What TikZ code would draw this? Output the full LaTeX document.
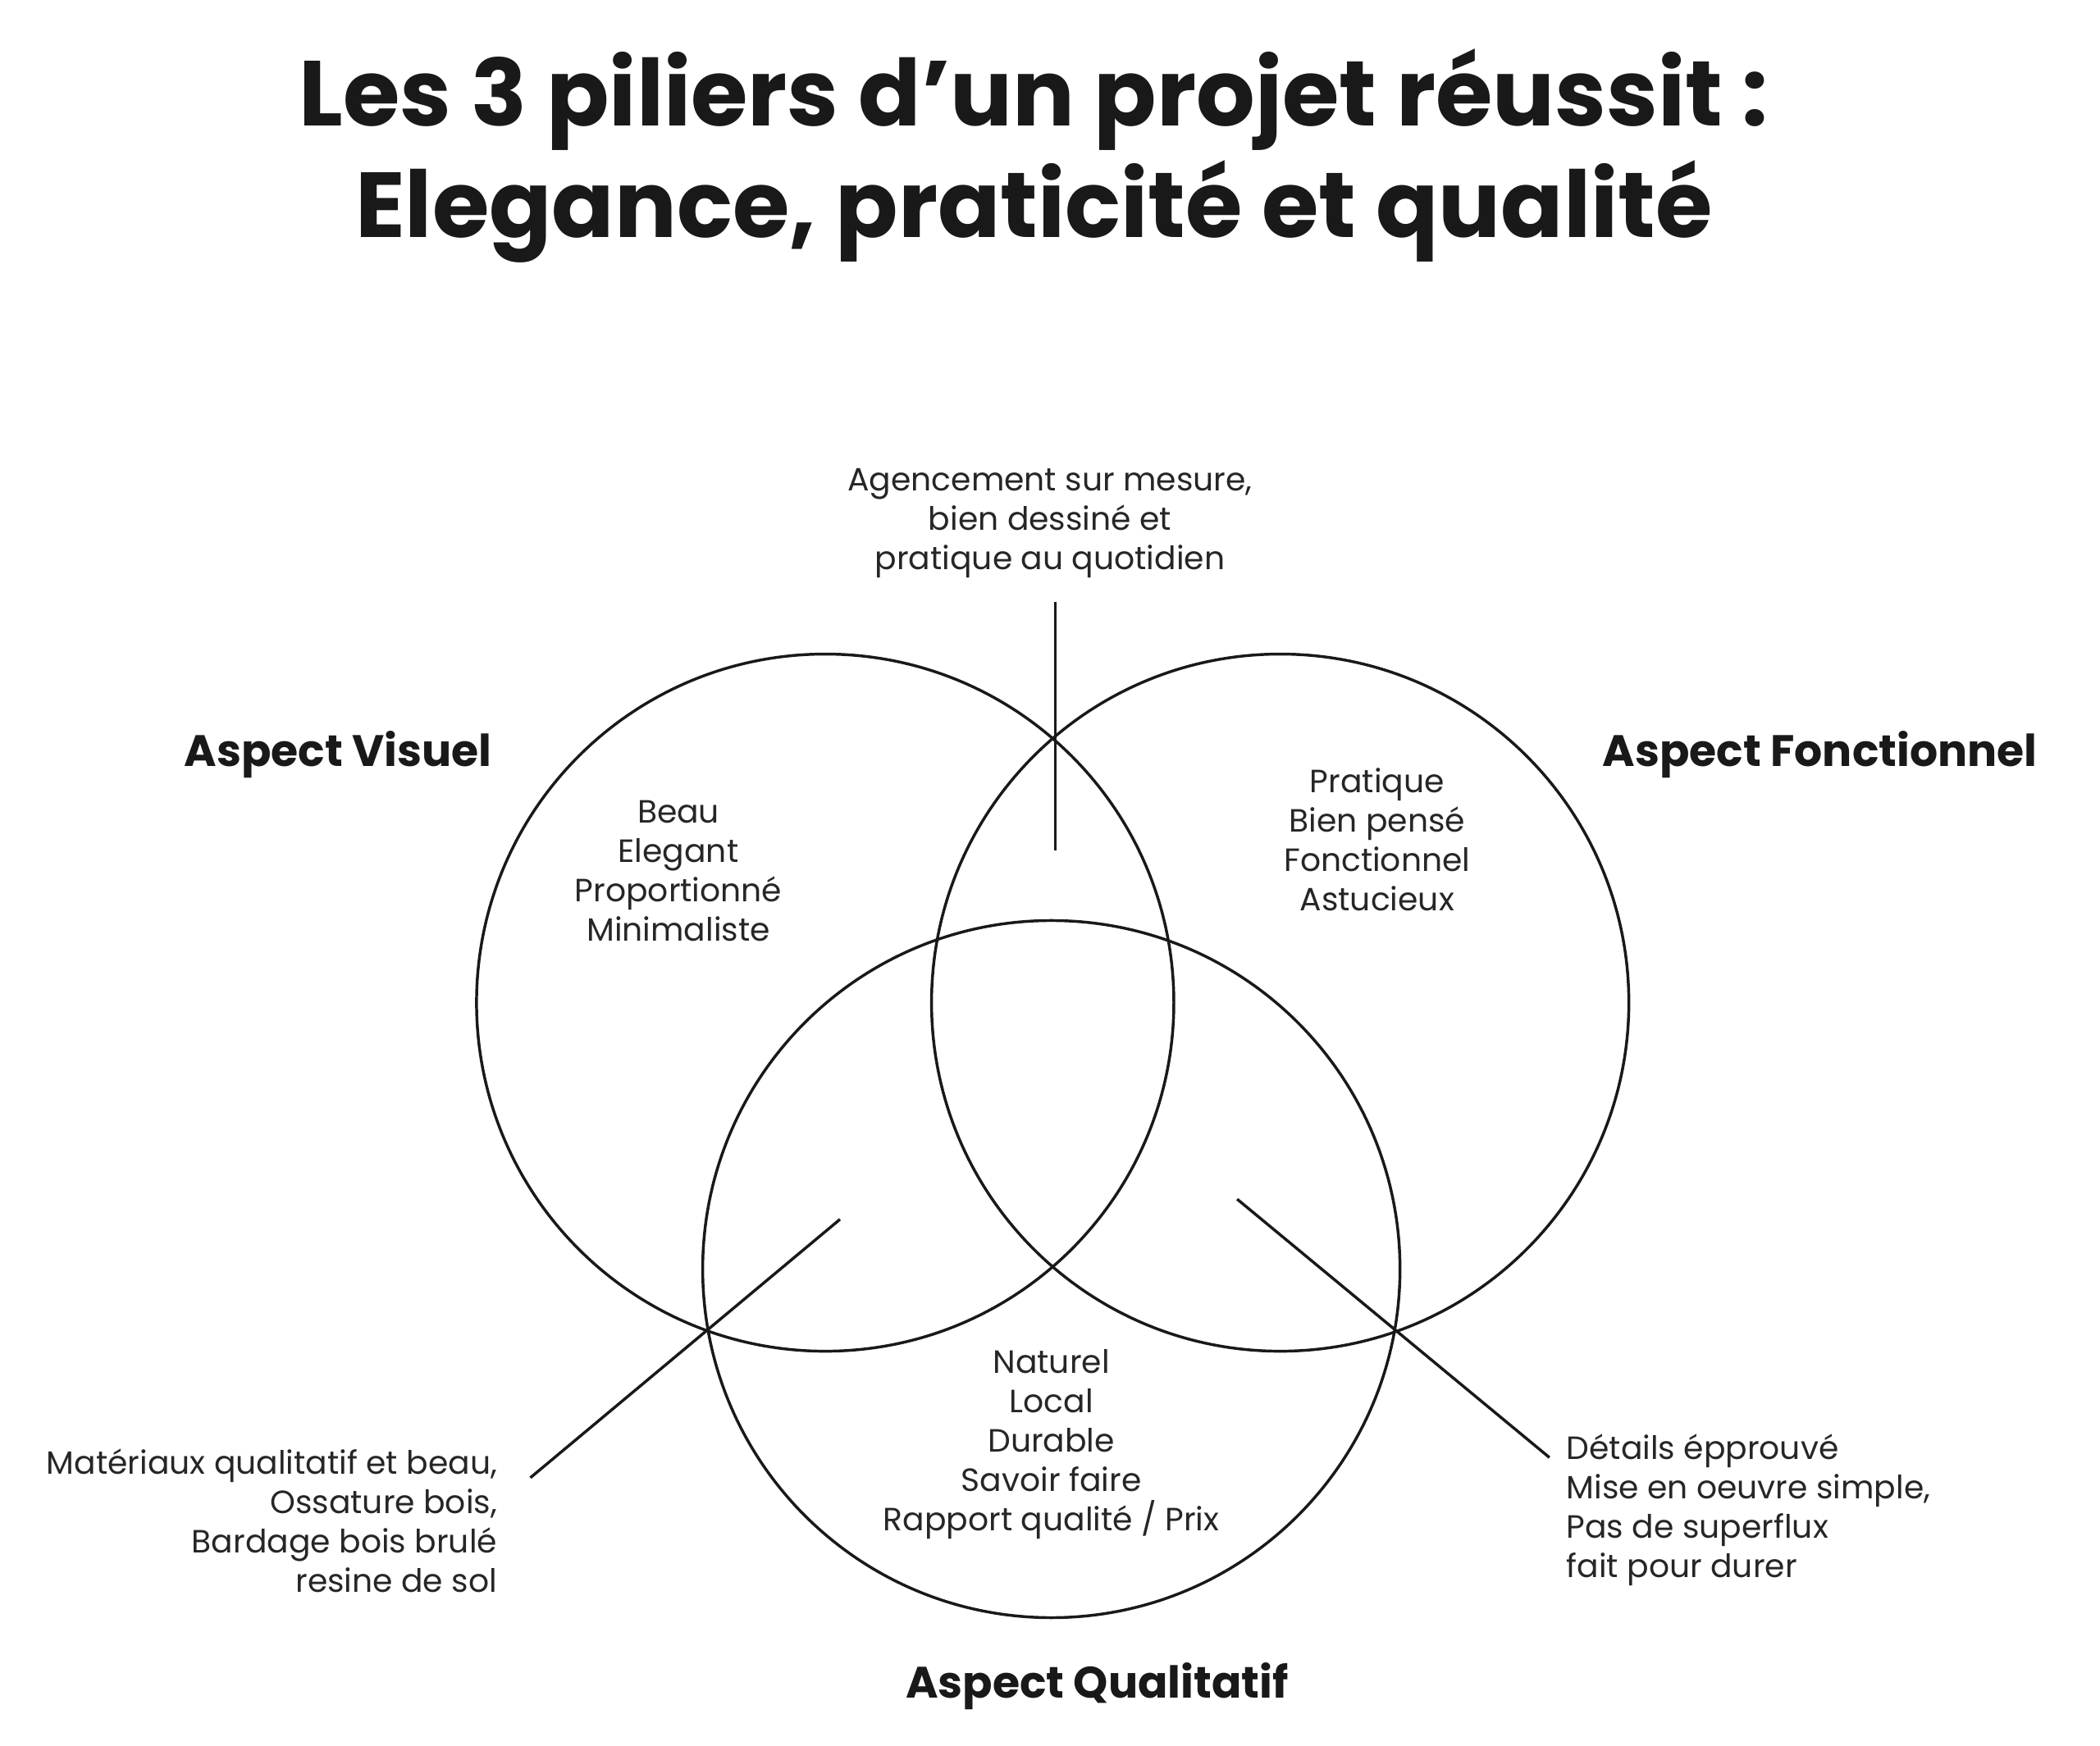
\documentclass[tikz,border=0pt]{standalone}
\usepackage{fontspec}
\setmainfont{Poppins}
\begin{document}
\begin{tikzpicture}[x=0.01cm,y=-0.01cm,
  circ/.style={draw=black!90,line width=0.6pt},
  lead/.style={draw=black!90,line width=0.6pt},
  body/.style={align=center,font=\fontsize{6.8}{8.3}\selectfont,text=black!85,inner sep=0},
  lbl/.style={font=\fontsize{9.3}{11}\selectfont\bfseries,text=black!90,inner sep=0},
  ttl/.style={align=center,font=\fontsize{19.5}{23.5}\selectfont\bfseries,text=black!90,inner sep=0}]
\useasboundingbox (0,0) rectangle (1560,1297);
\node[ttl] (title) at (768,116) {Les 3 piliers d’un projet réussit :\\Elegance, praticité et qualité};
\draw[circ] (613,745) circle (259);
\draw[circ] (951,745) circle (259);
\draw[circ] (781,943) circle (259);
\coordinate (t1) at (784,447); \coordinate (t2) at (784,632);
\coordinate (l1) at (624,906); \coordinate (l2) at (394,1098);
\coordinate (r1) at (919,891); \coordinate (r2) at (1151,1083);
\draw[lead] (t1) -- (t2);
\draw[lead] (l1) -- (l2);
\draw[lead] (r1) -- (r2);
\node[lbl] (av) at (251,561) {Aspect Visuel};
\node[lbl] (af) at (1352,561) {Aspect Fonctionnel};
\node[lbl] (aq) at (815,1253) {Aspect Qualitatif};
\node[body] (top) at (780,389) {Agencement sur mesure,\\bien dessiné et\\pratique au quotidien};
\node[body] (v) at (504,647) {Beau\\Elegant\\Proportionné\\Minimaliste};
\node[body] (f) at (1023,624) {Pratique\\Bien pensé\\Fonctionnel\\Astucieux};
\node[body] (q) at (781,1073) {Naturel\\Local\\Durable\\Savoir faire\\Rapport qualité / Prix};
\node[body,align=right,anchor=east] (lt) at (370,1130) {Matériaux qualitatif et beau,\\Ossature bois,\\Bardage bois brulé\\resine de sol};
\node[body,align=left,anchor=west] (rt) at (1163,1122) {Détails épprouvé\\Mise en oeuvre simple,\\Pas de superflux\\fait pour durer};
\end{tikzpicture}
\end{document}
